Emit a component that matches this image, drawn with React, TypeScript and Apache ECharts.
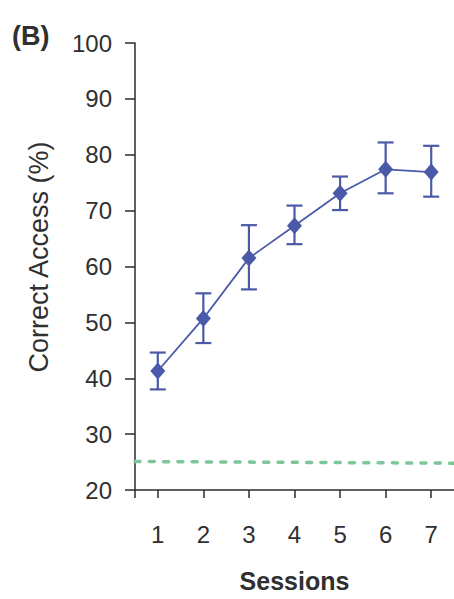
import React, { useEffect, useRef } from "react";
import * as echarts from "echarts";

const sessions = ["1", "2", "3", "4", "5", "6", "7"];
const meanAccess = [41.3, 50.7, 61.5, 67.3, 73.1, 77.4, 76.9];
const errLow = [38.0, 46.3, 55.9, 64.0, 70.1, 73.1, 72.5];
const errHigh = [44.6, 55.2, 67.4, 70.9, 76.1, 82.2, 81.6];
const chanceLine = [
  [0.5, 25.1],
  [7.5, 24.8],
];
const yTicks = { min: 20, max: 100, interval: 10 };

const BLUE = "#4b5aa8";
const GREEN = "#7cc69a";
const AXIS = "#2b2b2b";
const TEXT = "#303030";
const FONT = "'Liberation Sans', Arial, sans-serif";

export default function App() {
  const ref = useRef<HTMLDivElement>(null);

  useEffect(() => {
    document.body.style.margin = "0";
    if (!ref.current) return;
    const chart = echarts.init(ref.current, undefined, { renderer: "svg" });
    const option: any = {
      animation: false,
      grid: { left: 135, top: 43, width: 319, height: 447 },
      xAxis: [
        {
          type: "category",
          data: sessions,
          boundaryGap: true,
          axisLine: { show: true, lineStyle: { color: AXIS, width: 1.5 } },
          axisTick: { show: true, alignWithLabel: true, length: 8, lineStyle: { color: AXIS, width: 1.5 } },
          axisLabel: { fontSize: 24, color: TEXT, fontFamily: FONT, margin: 32 },
          name: "Sessions",
          nameLocation: "middle",
          nameGap: 78,
          nameTextStyle: { fontSize: 25, fontWeight: "bold", color: TEXT, fontFamily: FONT },
          splitLine: { show: false },
        },
        {
          type: "value",
          min: 0.5,
          max: 7.5,
          show: false,
        },
      ],
      yAxis: {
        type: "value",
        min: yTicks.min,
        max: yTicks.max,
        interval: yTicks.interval,
        axisLine: { show: true, lineStyle: { color: AXIS, width: 1.5 } },
        axisTick: { show: true, length: 10, lineStyle: { color: AXIS, width: 1.5 } },
        axisLabel: { fontSize: 24, color: TEXT, fontFamily: FONT, margin: 23 },
        splitLine: { show: false },
      },
      series: [
        {
          type: "line",
          xAxisIndex: 1,
          data: chanceLine,
          symbol: "none",
          lineStyle: { color: GREEN, width: 3.5, type: [5, 9.3], cap: "round" },
          z: 1,
        },
        {
          type: "custom",
          xAxisIndex: 0,
          data: sessions.map((s, i) => [i, errLow[i], errHigh[i]]),
          encode: { x: 0, y: [1, 2] },
          z: 2,
          renderItem: (params: any, api: any) => {
            const x = api.value(0);
            const lo = api.coord([x, api.value(1)]);
            const hi = api.coord([x, api.value(2)]);
            const hw = 8;
            const st = { stroke: BLUE, lineWidth: 2.2 };
            return {
              type: "group",
              children: [
                { type: "line", shape: { x1: hi[0], y1: hi[1], x2: lo[0], y2: lo[1] }, style: st },
                { type: "line", shape: { x1: hi[0] - hw, y1: hi[1], x2: hi[0] + hw, y2: hi[1] }, style: st },
                { type: "line", shape: { x1: lo[0] - hw, y1: lo[1], x2: lo[0] + hw, y2: lo[1] }, style: st },
              ],
            };
          },
        },
        {
          type: "line",
          xAxisIndex: 0,
          data: meanAccess,
          symbol: "diamond",
          symbolSize: [15, 17],
          itemStyle: { color: BLUE },
          lineStyle: { color: BLUE, width: 1.8 },
          z: 3,
        },
      ],
      graphic: [
        {
          type: "text",
          left: 12,
          top: 22,
          style: { text: "(B)", fontSize: 27, fontWeight: "bold", fill: TEXT, fontFamily: FONT },
        },
        {
          type: "text",
          x: 39,
          y: 257,
          rotation: Math.PI / 2,
          style: {
            text: "Correct Access (%)",
            fontSize: 27,
            fill: TEXT,
            fontFamily: FONT,
            align: "center",
            verticalAlign: "middle",
          },
        },
      ],
    };
    chart.setOption(option);
    const origin = chart.convertToPixel({ xAxisIndex: 1, yAxisIndex: 0 }, [0.5, yTicks.min]);
    if (origin) {
      chart.setOption({
        graphic: [
          {},
          {},
          {
            type: "line",
            shape: { x1: origin[0], y1: origin[1], x2: origin[0], y2: origin[1] + 8 },
            style: { stroke: AXIS, lineWidth: 1.5 },
          },
        ],
      });
    }
    return () => chart.dispose();
  }, []);

  return <div ref={ref} style={{ width: 454, height: 599 }} />;
}
